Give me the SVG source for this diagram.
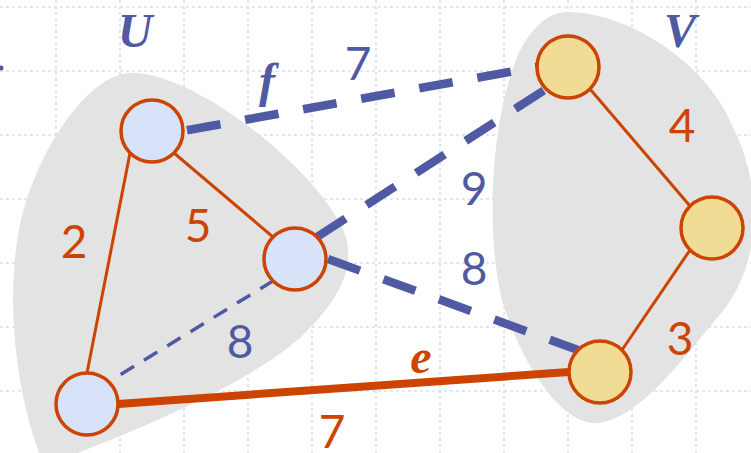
<svg xmlns="http://www.w3.org/2000/svg" width="751" height="453" viewBox="0 0 751 453">
<style>
.grid line{stroke:#D5DFF8;stroke-width:1.6;stroke-dasharray:3 3}
.blob{fill:#E3E3E3}
.nodeU{fill:#D8E3FA;stroke:#CC4400;stroke-width:3.5}
.nodeV{fill:#F0DC95;stroke:#CC4400;stroke-width:3.5}
.thin{stroke:#CC4400;stroke-width:3;fill:none}
.thick{stroke:#CC4400;stroke-width:8;fill:none}
.bdash{stroke:#4F5AA3;stroke-width:8.5;stroke-dasharray:34 25;fill:none}
.bdashthin{stroke:#4F5AA3;stroke-width:3.5;stroke-dasharray:15.6 11.7;fill:none}
.num{font-family:Lato,"Open Sans","Liberation Sans",sans-serif;font-size:46px;text-anchor:middle}
.o{fill:#CC4400}
.b{fill:#4F5AA3}
.ital{font-family:"Liberation Serif","Times New Roman",serif;font-style:italic;font-weight:bold;font-size:48px;text-anchor:middle}
</style>
<rect width="751" height="453" fill="#FFFFFF"/>
<g class="grid">
<line x1="56" y1="0" x2="56" y2="453"/>
<line x1="120" y1="0" x2="120" y2="453"/>
<line x1="184" y1="0" x2="184" y2="453"/>
<line x1="248" y1="0" x2="248" y2="453"/>
<line x1="312" y1="0" x2="312" y2="453"/>
<line x1="376" y1="0" x2="376" y2="453"/>
<line x1="440" y1="0" x2="440" y2="453"/>
<line x1="504" y1="0" x2="504" y2="453"/>
<line x1="568" y1="0" x2="568" y2="453"/>
<line x1="632" y1="0" x2="632" y2="453"/>
<line x1="696" y1="0" x2="696" y2="453"/>
<line x1="0" y1="7" x2="751" y2="7"/>
<line x1="0" y1="71" x2="751" y2="71"/>
<line x1="0" y1="135" x2="751" y2="135"/>
<line x1="0" y1="199" x2="751" y2="199"/>
<line x1="0" y1="263" x2="751" y2="263"/>
<line x1="0" y1="327" x2="751" y2="327"/>
<line x1="0" y1="391" x2="751" y2="391"/>
</g>
<circle cx="1" cy="68" r="2.5" fill="#4F5AA3"/>
<g id="blobU">
<path class="blob" d="M130,73 C185,70 295,150 335,215 C365,258 340,300 300,338 C245,385 150,425 60,460 L42,460 C10,380 5,270 25,205 C45,140 90,75 130,73 Z"/>
</g>
<g id="blobV">
<path class="blob" d="M568,12 C625,12 705,60 732,125 C765,190 760,265 722,312 C680,362 640,418 598,423 C560,426 520,360 502,300 C486,235 490,130 515,62 C530,25 550,12 568,12 Z"/>
</g>
<g id="connectors">
<line class="thin" x1="130" y1="153" x2="87" y2="373"/>
<line class="thin" x1="174" y1="153" x2="273" y2="237"/>
<line class="thin" x1="590" y1="89" x2="690" y2="206"/>
<line class="thin" x1="690" y1="250" x2="622" y2="350"/>
<line class="thick" x1="118" y1="404" x2="569" y2="372"/>
<line class="bdash" x1="187" y1="130.3" x2="537" y2="67"/>
<line class="bdash" x1="317" y1="237" x2="546" y2="89"/>
<line class="bdash" x1="328" y1="259" x2="578" y2="350"/>
<line class="bdashthin" x1="120.7" y1="374.5" x2="273" y2="281"/>
</g>
<g id="U1"><circle class="nodeU" cx="152" cy="131" r="31"/></g>
<g id="U2"><circle class="nodeU" cx="295" cy="259" r="31"/></g>
<g id="U3"><circle class="nodeU" cx="87" cy="404" r="31"/></g>
<g id="V1"><circle class="nodeV" cx="568" cy="67" r="31"/></g>
<g id="V2"><circle class="nodeV" cx="712" cy="228" r="31"/></g>
<g id="V3"><circle class="nodeV" cx="600" cy="372" r="31"/></g>
<g id="labels">
<text class="ital b" x="135" y="47">U</text>
<text class="ital b" x="680" y="47">V</text>
<text class="ital b" x="267" y="97">f</text>
<text class="ital o" x="421" y="373">e</text>
<text class="num b" x="358" y="80">7</text>
<text class="num o" x="682" y="142">4</text>
<text class="num b" x="474" y="205">9</text>
<text class="num o" x="74" y="258">2</text>
<text class="num o" x="198" y="242">5</text>
<text class="num b" x="240" y="358">8</text>
<text class="num b" x="474" y="285">8</text>
<text class="num o" x="680" y="355">3</text>
<text class="num o" x="332" y="448">7</text>
</g>
</svg>
